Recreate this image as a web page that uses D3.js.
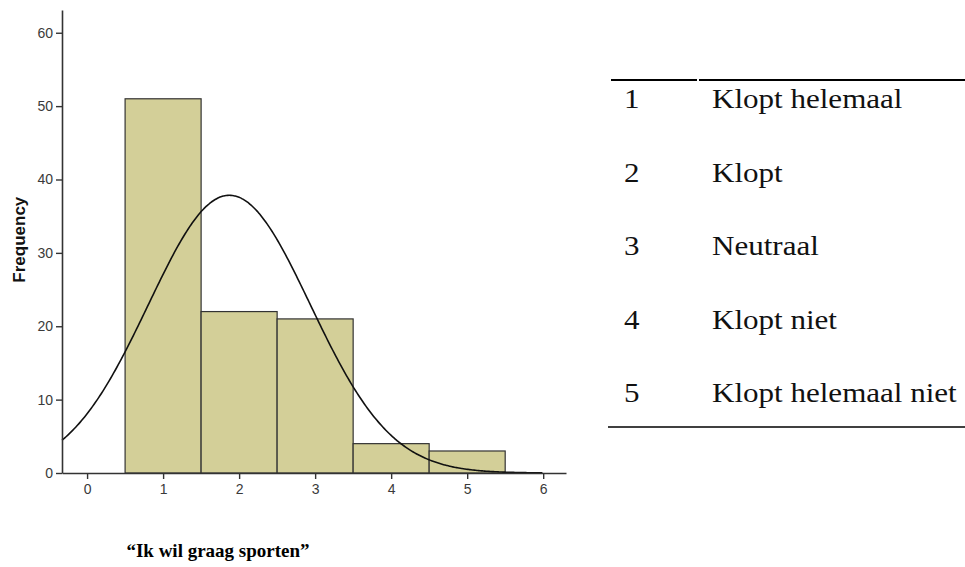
<!DOCTYPE html>
<html>
<head>
<meta charset="utf-8">
<script src="https://cdn.jsdelivr.net/npm/d3@7"></script>
<style>
  body { margin: 0; background: #fff; }
  svg { display: block; }
</style>
</head>
<body>
<div id="chart"></div>
<script>
// Histogram data: answer value and how many respondents gave it
var categories = [1, 2, 3, 4, 5];
var frequencies = [51, 22, 21, 4, 3];
var yTicks = [0, 10, 20, 30, 40, 50, 60];
var xTicks = [0, 1, 2, 3, 4, 5, 6];
var legendCodes = ['1', '2', '3', '4', '5'];
var legendLabels = ['Klopt helemaal', 'Klopt', 'Neutraal', 'Klopt niet', 'Klopt helemaal niet'];
var title = '\u201CIk wil graag sporten\u201D';

var width = 965, height = 567;
var svg = d3.select('#chart').append('svg')
    .attr('width', width)
    .attr('height', height);

var x = d3.scaleLinear().domain([-0.33, 6.3]).range([62, 566]);
var y = d3.scaleLinear().domain([0, 63.1]).range([473, 10]);

var fill = '#d3cf98';
var ink = '#333';
var sans = 'Arial, "Liberation Sans", sans-serif';
var serif = '"Liberation Serif", "Times New Roman", serif';

// Bars
svg.append('g').selectAll('rect')
    .data(categories)
    .enter().append('rect')
    .attr('x', function(d) { return x(d - 0.5); })
    .attr('y', function(d, i) { return y(frequencies[i]); })
    .attr('width', function(d) { return x(d + 0.5) - x(d - 0.5); })
    .attr('height', function(d, i) { return y(0) - y(frequencies[i]); })
    .style('fill', fill)
    .style('stroke', ink)
    .style('stroke-width', 1.2);

// Normal curve fitted to the data (mean and sd from the frequencies)
var n = d3.sum(frequencies);
var mean = d3.sum(categories, function(d, i) { return d * frequencies[i]; }) / n;
var ss = d3.sum(categories, function(d, i) { return frequencies[i] * (d - mean) * (d - mean); });
var sd = Math.sqrt(ss / (n - 1));
var curveX = d3.range(-0.33, 6.0, 0.02);
var line = d3.line()
    .x(function(d) { return x(d); })
    .y(function(d) {
        var z = (d - mean) / sd;
        return y(n * Math.exp(-0.5 * z * z) / (sd * Math.sqrt(2 * Math.PI)));
    })
    .curve(d3.curveBasis);
svg.append('path')
    .datum(curveX)
    .attr('d', line)
    .style('fill', 'none')
    .style('stroke', '#111')
    .style('stroke-width', 1.6);

// Axes
var yAxis = svg.append('g')
    .attr('transform', 'translate(' + x(-0.33) + ',0)')
    .call(d3.axisLeft(y).tickValues(yTicks).tickFormat(d3.format('d'))
        .tickSize(6).tickPadding(3).tickSizeOuter(0));
var xAxis = svg.append('g')
    .attr('transform', 'translate(0,' + y(0) + ')')
    .call(d3.axisBottom(x).tickValues(xTicks).tickFormat(d3.format('d'))
        .tickSize(6).tickPadding(5).tickSizeOuter(0));

[xAxis, yAxis].forEach(function(a) {
    a.select('.domain').style('stroke', ink).style('stroke-width', 1.6);
    a.selectAll('.tick line').style('stroke', ink).style('stroke-width', 1.4);
    a.selectAll('.tick text')
        .style('font-family', sans)
        .style('font-size', '14px')
        .style('fill', '#3a3a3a');
});

svg.append('text')
    .attr('transform', 'translate(25,' + y(31.8) + ') rotate(-90)')
    .style('text-anchor', 'middle')
    .style('font-family', sans)
    .style('font-weight', 'bold')
    .style('font-size', '17px')
    .style('fill', '#111')
    .text('Frequency');

svg.append('text')
    .attr('x', 218)
    .attr('y', 557)
    .style('text-anchor', 'middle')
    .style('font-family', serif)
    .style('font-weight', 'bold')
    .style('font-size', '19px')
    .text(title);

// Legend table on the right
var table = svg.append('g');
table.append('line')
    .attr('x1', 611).attr('x2', 965).attr('y1', 80).attr('y2', 80)
    .style('stroke', '#000').style('stroke-width', 2);
table.append('line')
    .attr('x1', 697).attr('x2', 699).attr('y1', 80).attr('y2', 80)
    .style('stroke', '#fff').style('stroke-width', 2);
table.append('line')
    .attr('x1', 608).attr('x2', 965).attr('y1', 427).attr('y2', 427)
    .style('stroke', '#000').style('stroke-width', 1.5);

var rows = table.selectAll('g.row')
    .data(legendCodes)
    .enter().append('g')
    .attr('class', 'row')
    .attr('transform', function(d, i) { return 'translate(0,' + (108 + i * 73.5) + ')'; });
rows.append('text')
    .attr('transform', 'translate(624,0) scale(1.15,1)')
    .text(function(d) { return d; });
rows.append('text')
    .attr('transform', 'translate(712,0) scale(1.15,1)')
    .text(function(d, i) { return legendLabels[i]; });
rows.selectAll('text')
    .style('font-family', serif)
    .style('font-size', '27px')
    .style('fill', '#111');
</script>
</body>
</html>
